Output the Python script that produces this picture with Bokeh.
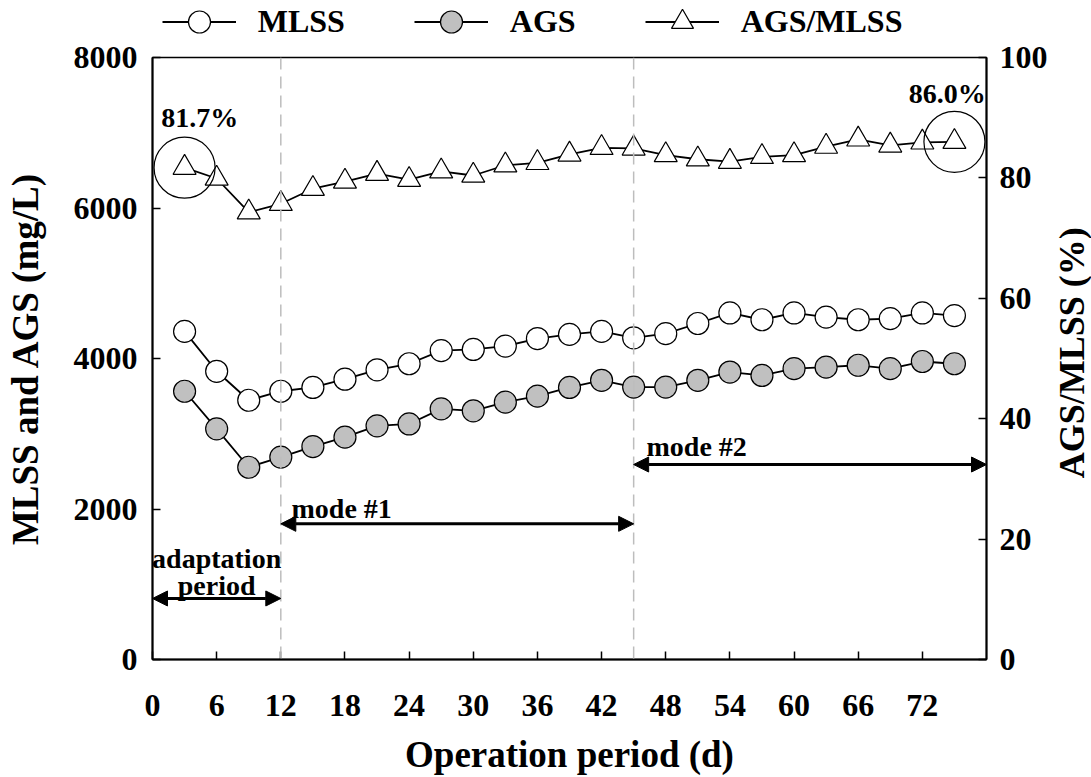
import math
from bokeh.plotting import figure
from bokeh.layouts import column, row
from bokeh.models import (Range1d, LinearAxis, FixedTicker, Span, Arrow, NormalHead,
                          Label, Legend, LegendItem)
from bokeh.embed import file_html
from bokeh.resources import INLINE

# ---- data ----
days = [3, 6, 9, 12, 15, 18, 21, 24, 27, 30, 33, 36, 39, 42, 45, 48, 51, 54, 57, 60,
        63, 66, 69, 72, 75]
mlss = [4360, 3830, 3445, 3565, 3615, 3725, 3850, 3930, 4105, 4120, 4165, 4265, 4320,
        4360, 4275, 4330, 4465, 4605, 4515, 4605, 4550, 4515, 4530, 4605, 4570]
ags = [3565, 3065, 2555, 2690, 2830, 2955, 3105, 3130, 3330, 3305, 3420, 3500, 3615,
       3710, 3620, 3620, 3710, 3820, 3775, 3865, 3885, 3910, 3865, 3960, 3930]
ratio = [81.7, 79.9, 74.3, 75.7, 78.2, 79.4, 80.7, 79.7, 81.1, 80.4, 82.1, 82.5, 83.9,
         85.0, 84.9, 83.8, 83.1, 82.7, 83.5, 83.8, 85.2, 86.4, 85.4, 85.9, 86.0]
x_ticks = [0, 6, 12, 18, 24, 30, 36, 42, 48, 54, 60, 66, 72]
left_ticks = [0, 2000, 4000, 6000, 8000]
right_ticks = [0, 20, 40, 60, 80, 100]
mode_bounds = [0, 12, 45, 78]
series_names = ["MLSS", "AGS", "AGS/MLSS"]
period_labels = ["adaptation", "period", "mode #1", "mode #2"]
pct_labels = ["81.7%", "86.0%"]
right_title = "AGS/MLSS (%)"

FONT = "Liberation Serif"
CIRCLE_FILL = ["white", "#c0c0c0"]

LEG_H = 39
MAIN_H = 777 - LEG_H
MAIN_W = 1050
STRIP_W = 1091 - MAIN_W

# ---------------- main chart ----------------
p = figure(width=MAIN_W, height=MAIN_H,
           x_range=Range1d(0, 78), y_range=Range1d(0, 8000),
           output_backend="svg", toolbar_location=None,
           min_border_left=152, min_border_right=MAIN_W - 989,
           min_border_top=57 - LEG_H, min_border_bottom=118,
           x_axis_label="Operation period (d)",
           y_axis_label="MLSS and AGS (mg/L)")
p.extra_y_ranges = {"ratio": Range1d(0, 100)}
p.xgrid.visible = False
p.ygrid.visible = False
p.outline_line_color = "black"
p.outline_line_width = 1.5
p.background_fill_color = "white"
p.border_fill_color = "white"

right_axis = LinearAxis(y_range_name="ratio", ticker=FixedTicker(ticks=right_ticks))
p.add_layout(right_axis, "right")

p.xaxis.ticker = FixedTicker(ticks=x_ticks)
p.yaxis[0].ticker = FixedTicker(ticks=left_ticks)

for ax in p.axis:
    ax.major_tick_in = 8
    ax.major_tick_out = 0
    ax.minor_tick_in = 0
    ax.minor_tick_out = 0
    ax.axis_line_width = 2
    ax.major_tick_line_width = 1.5
    ax.major_label_text_font = FONT
    ax.major_label_text_font_size = "32px"
    ax.major_label_text_font_style = "bold"
    ax.major_label_text_color = "black"
    ax.axis_label_text_font = FONT
    ax.axis_label_text_font_size = "37px"
    ax.axis_label_text_font_style = "bold"
    ax.axis_label_text_color = "black"

p.xaxis.major_label_standoff = 35
p.xaxis.axis_label_standoff = 15
p.yaxis[0].major_label_standoff = 15
p.yaxis[0].axis_label_standoff = 25
right_axis.major_label_standoff = 13

# dashed separators
for b in mode_bounds[1:3]:
    p.add_layout(Span(location=b, dimension="height", line_color="#bdbdbd",
                      line_width=1.5, line_dash="12 7"))

# series
p.line(days, mlss, line_color="black", line_width=1.8)
p.line(days, ags, line_color="black", line_width=1.8)
p.line(days, ratio, line_color="black", line_width=1.8, y_range_name="ratio")
p.scatter(days, mlss, marker="circle", size=22, fill_color=CIRCLE_FILL[0],
          line_color="black", line_width=1.2)
p.scatter(days, ags, marker="circle", size=22, fill_color=CIRCLE_FILL[1],
          line_color="black", line_width=1.2)
p.scatter(days, ratio, marker="triangle", size=23, fill_color="white",
          line_color="black", line_width=1.2, y_range_name="ratio")

# highlight circles around first and last ratio values
p.scatter([days[0], days[-1]], [ratio[0], ratio[-1]], marker="circle", size=61,
          fill_color=None, line_color="black", line_width=1.2, y_range_name="ratio")

# period arrows
arrow_y = [811, 1803, 2591]
for i in range(3):
    p.add_layout(Arrow(x_start=mode_bounds[i], x_end=mode_bounds[i + 1],
                       y_start=arrow_y[i], y_end=arrow_y[i],
                       line_color="black", line_width=3,
                       start=NormalHead(size=15, fill_color="black", line_color="black"),
                       end=NormalHead(size=15, fill_color="black", line_color="black")))


def add_label(fig, text, x, y, align="left", size="28px", angle=0.0,
              baseline="alphabetic"):
    fig.add_layout(Label(x=x, y=y, text=text, text_font=FONT, text_font_size=size,
                         text_font_style="bold", text_color="black", text_align=align,
                         text_baseline=baseline, angle=angle))


add_label(p, period_labels[0], 6, 1342, "center")
add_label(p, period_labels[1], 6, 983, "center")
add_label(p, period_labels[2], 13.0, 2011, "left")
add_label(p, period_labels[3], 46.2, 2834, "left")
add_label(p, pct_labels[0], 0.81, 7199, "left")
add_label(p, pct_labels[1], 77.94, 7517, "right")

# ---------------- right-hand title strip (reads bottom-to-top) ----------------
tf = figure(width=STRIP_W, height=MAIN_H, x_range=Range1d(0, 1), y_range=Range1d(0, 1),
            output_backend="svg", toolbar_location=None, min_border=0,
            x_axis_type=None, y_axis_type=None)
tf.outline_line_color = None
tf.grid.visible = False
# rotated text box is shifted up by about its own height; compensate (+41 px)
add_label(tf, right_title, (1071 - MAIN_W) / STRIP_W,
          (MAIN_H - (360 + 41 - LEG_H)) / MAIN_H, "center", "36px",
          math.pi / 2, "middle")

# ---------------- legend strip ----------------
lf = figure(width=1091, height=LEG_H, x_range=Range1d(0, 1), y_range=Range1d(0, 1),
            output_backend="svg", toolbar_location=None, min_border=0,
            x_axis_type=None, y_axis_type=None)
lf.outline_line_color = None
lf.grid.visible = False
# same series, kept outside this strip's view; only their legend glyphs show
ll1 = lf.line(days, mlss, line_color="black", line_width=1.8)
ll2 = lf.line(days, ags, line_color="black", line_width=1.8)
ll3 = lf.line(days, ratio, line_color="black", line_width=1.8)
lm1 = lf.scatter(days, mlss, marker="circle", size=22, fill_color=CIRCLE_FILL[0],
                 line_color="black", line_width=1.2)
lm2 = lf.scatter(days, ags, marker="circle", size=22, fill_color=CIRCLE_FILL[1],
                 line_color="black", line_width=1.2)
lm3 = lf.scatter(days, ratio, marker="triangle", size=23, fill_color="white",
                 line_color="black", line_width=1.2)
legend = Legend(items=[LegendItem(label=series_names[0], renderers=[ll1, lm1]),
                       LegendItem(label=series_names[1], renderers=[ll2, lm2]),
                       LegendItem(label=series_names[2], renderers=[ll3, lm3])],
                orientation="horizontal", location=(161.7, LEG_H - 49.2),
                glyph_width=74, glyph_height=55, label_standoff=22, spacing=69,
                padding=0, margin=0, border_line_color=None,
                background_fill_alpha=0,
                label_text_font=FONT, label_text_font_size="32px",
                label_text_font_style="bold", label_text_color="black")
lf.add_layout(legend)

layout = column(lf, row(p, tf, spacing=0), spacing=0)

open("out.html", "w").write(file_html(layout, INLINE))
